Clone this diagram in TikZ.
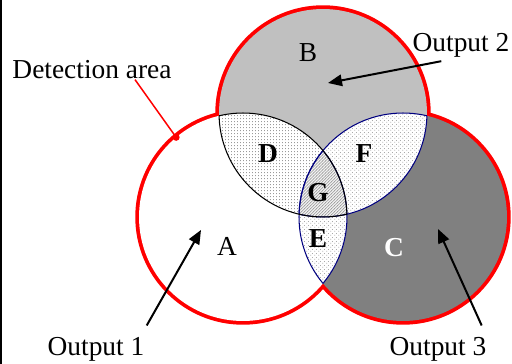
\documentclass[tikz,border=0pt]{standalone}
\usepackage{fontspec}
\setmainfont{Liberation Serif}
\usetikzlibrary{arrows.meta,patterns,patterns.meta}

% fill patterns of the overlaps
\tikzdeclarepattern{name=finedots, type=uncolored,
  bottom left={(0pt,0pt)}, top right={(1.7pt,1.8pt)}, tile size={(1.7pt,1.8pt)},
  code={\fill (0.85pt,0.9pt) circle (0.26pt);}}
\tikzdeclarepattern{name=crossdots, type=uncolored,
  bottom left={(0pt,0pt)}, top right={(2.3pt,2.3pt)}, tile size={(2.3pt,2.3pt)},
  code={\fill (0.575pt,0.575pt) circle (0.33pt); \fill (1.725pt,1.725pt) circle (0.33pt);}}
\tikzdeclarepattern{name=finehatch, type=uncolored,
  bottom left={(-0.2pt,-0.2pt)}, top right={(1.9pt,1.9pt)}, tile size={(1.7pt,1.7pt)},
  code={\draw[line width=0.3pt] (-0.2pt,-0.2pt) -- (1.9pt,1.9pt);}}

\definecolor{bgray}{HTML}{C0C0C0}
\definecolor{cgray}{HTML}{808080}
\definecolor{navy}{HTML}{000080}

\begin{document}
\begin{tikzpicture}[x=0.02cm,y=-0.02cm,>={Triangle[length=2.8mm,width=2.3mm]},
    every node/.style={inner sep=0pt,font=\fontsize{15.6}{18}\selectfont},
    lbl/.style={anchor=base},
    zone/.style={anchor=base,font=\fontsize{15.6}{18}\selectfont\bfseries},
    rim/.style={draw=red,line width=1.5mm},
    inner/.style={line width=0.6pt},
    arr/.style={->,line width=0.04cm},
    lead/.style={draw=red,line width=0.03cm}]
  \useasboundingbox (0,0) rectangle (512,364);
  \draw[line width=0.04cm] (1,0) -- (1,364);

  \def\rad{2.08cm}
  \coordinate (ca) at (243,217);
  \coordinate (cb) at (323,113);
  \coordinate (cc) at (403,217);

  % outline first, the fills cover its inner half
  \foreach \c in {ca,cb,cc} \draw[rim] (\c) circle (\rad);
  \fill[bgray] (cb) circle (\rad);
  \fill[cgray] (cc) circle (\rad);
  \fill[white] (ca) circle (\rad);

  % D
  \begin{scope}
    \clip (ca) circle (\rad);
    \fill[white] (cb) circle (\rad);
    \fill[pattern=finedots,pattern color=black!80] (cb) circle (\rad);
  \end{scope}
  % E
  \begin{scope}
    \clip (ca) circle (\rad);
    \fill[white] (cc) circle (\rad);
    \fill[pattern=crossdots,pattern color=gray!90] (cc) circle (\rad);
  \end{scope}
  % F
  \begin{scope}
    \clip (cb) circle (\rad);
    \fill[white] (cc) circle (\rad);
    \fill[pattern=crossdots,pattern color=gray!90] (cc) circle (\rad);
  \end{scope}
  % G
  \begin{scope}
    \clip (ca) circle (\rad);
    \clip (cb) circle (\rad);
    \fill[gray!10] (cc) circle (\rad);
    \fill[pattern=finehatch,pattern color=gray!80] (cc) circle (\rad);
  \end{scope}

  % inner arcs
  \begin{scope}
    \clip (cc) circle (\rad);
    \draw[inner,navy] (ca) circle (\rad) (cb) circle (\rad);
  \end{scope}
  \begin{scope}
    \clip (ca) circle (\rad);
    \draw[inner,navy] (cc) circle (\rad);
  \end{scope}
  \begin{scope}
    \clip (cb) circle (\rad);
    \draw[inner,navy] (cc) circle (\rad);
  \end{scope}
  \begin{scope}
    \clip (cb) circle (\rad);
    \draw[inner] (ca) circle (\rad);
  \end{scope}
  \begin{scope}
    \clip (ca) circle (\rad);
    \draw[inner] (cb) circle (\rad);
  \end{scope}

  % labels
  \node[lbl] (det)  at (92,79)   {Detection area};
  \node[lbl] (out1) at (96,356)  {Output 1};
  \node[lbl] (out2) at (461,52)  {Output 2};
  \node[lbl] (out3) at (438,356) {Output 3};
  \node[lbl]  (la) at (227,256) {A};
  \node[lbl]  (lb) at (308,62)  {B};
  \node[zone,text=white] (lc) at (394,257) {C};
  \node[zone] (ld) at (268,163) {D};
  \node[zone] (le) at (318,248) {E};
  \node[zone] (lf) at (364,163) {F};
  \node[zone] (lg) at (318,202) {G};

  \coordinate (dot)  at ([shift={(130:\rad)}]ca);
  \coordinate (tip1) at (201,230);
  \coordinate (tip2) at (328,83);
  \coordinate (tip3) at (438,229);

  \fill[red] (dot) circle (0.07cm);
  \draw[lead] ([shift={(43,0)}]det.south) -- (dot);
  \draw[arr] ([shift={(2,-12)}]out1.north east) -- (tip1);
  \draw[arr] ([shift={(29,3)}]out2.south west) -- (tip2);
  \draw[arr] ([shift={(-5,-12)}]out3.north east) -- (tip3);
\end{tikzpicture}
\end{document}
